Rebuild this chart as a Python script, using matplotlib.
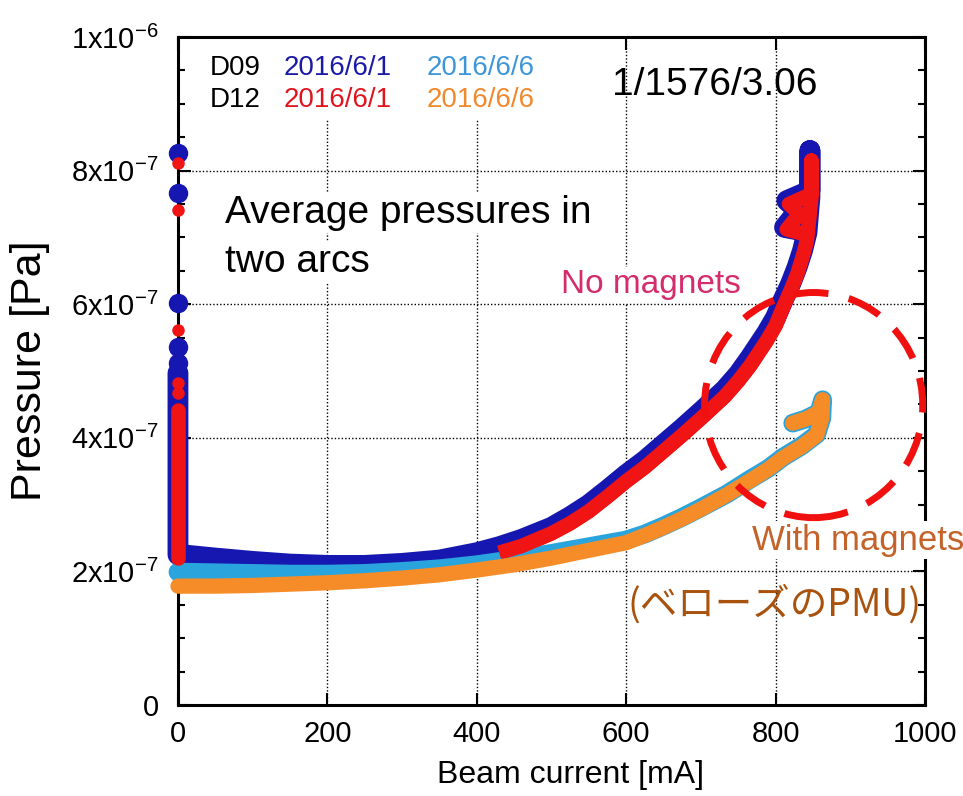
import matplotlib
matplotlib.use("Agg")
import matplotlib.pyplot as plt
from matplotlib.patches import Ellipse, Rectangle

plt.rcParams['font.family'] = ['Liberation Sans', 'Noto Sans CJK JP', 'DejaVu Sans']
plt.rcParams['mathtext.fontset'] = 'custom'
plt.rcParams['mathtext.rm'] = 'Liberation Sans'

# D09 2016/6/1 (dark blue)
d09_a_x = [0, 0, 5, 50, 100, 150, 200, 250, 300, 350, 400, 430, 460, 500, 525, 550, 575,
           600, 625, 650, 675, 703, 732, 750, 766, 788, 800, 810, 820, 829, 836, 842,
           846, 846, 846, 815, 830, 812, 835]
d09_a_y = [4.97, 2.25, 2.25, 2.20, 2.15, 2.11, 2.09, 2.09, 2.12, 2.17, 2.28, 2.37, 2.48,
           2.66, 2.82, 3.00, 3.22, 3.45, 3.66, 3.90, 4.14, 4.42, 4.72, 4.95, 5.20, 5.57,
           5.80, 6.06, 6.30, 6.56, 6.80, 7.07, 7.60, 8.30, 7.70, 7.55, 7.40, 7.15, 7.10]
d09_a_spike = [8.26, 7.66, 6.02, 5.36, 5.12]

# D12 2016/6/1 (red)
d12_a_x = [0, 0, 5, 50, 100, 150, 200, 250, 300, 350, 400, 430, 460, 500, 525, 550, 575,
           600, 625, 650, 675, 703, 732, 750, 766, 788, 800, 810, 820, 829, 836, 842,
           848, 848, 848, 818, 832, 815, 838]
d12_a_y = [4.42, 2.20, 2.13, 2.10, 2.08, 2.06, 2.04, 2.04, 2.07, 2.11, 2.20, 2.28, 2.38,
           2.57, 2.72, 2.90, 3.12, 3.35, 3.56, 3.80, 4.04, 4.32, 4.62, 4.85, 5.08, 5.45,
           5.68, 5.95, 6.20, 6.45, 6.70, 6.95, 7.60, 8.15, 7.65, 7.50, 7.35, 7.12, 7.05]
d12_a_spike = [8.11, 7.41, 5.61, 4.82, 4.67]

# D09 2016/6/6 (light blue)
d09_b_x = [0, 50, 100, 150, 200, 250, 300, 350, 400, 450, 500, 530, 565, 600, 625, 650,
           675, 703, 735, 766, 790, 810, 835, 855, 862, 863, 858, 840, 823]
d09_b_y = [1.99, 1.98, 1.97, 1.96, 1.96, 1.97, 2.00, 2.04, 2.10, 2.18, 2.27, 2.33, 2.40,
           2.47, 2.56, 2.68, 2.81, 2.97, 3.16, 3.38, 3.54, 3.71, 3.88, 4.05, 4.30, 4.57,
           4.38, 4.28, 4.22]

# D12 2016/6/6 (orange)
d12_b_x = [0, 50, 100, 150, 200, 250, 300, 350, 400, 450, 500, 530, 565, 600, 625, 650,
           675, 703, 735, 766, 790, 810, 835, 855, 862, 863, 858, 840, 823]
d12_b_y = [1.78, 1.78, 1.79, 1.81, 1.83, 1.86, 1.90, 1.95, 2.02, 2.10, 2.20, 2.27, 2.35,
           2.43, 2.54, 2.66, 2.79, 2.95, 3.15, 3.36, 3.53, 3.70, 3.87, 4.04, 4.30, 4.57,
           4.38, 4.28, 4.22]

yticks = [0, 2e-7, 4e-7, 6e-7, 8e-7, 1e-6]
ytick_labels = ['0', r'$\mathregular{2x10^{-7}}$', r'$\mathregular{4x10^{-7}}$',
                r'$\mathregular{6x10^{-7}}$', r'$\mathregular{8x10^{-7}}$',
                r'$\mathregular{1x10^{-6}}$']
xticks = [0, 200, 400, 600, 800, 1000]

blue = '#1616b0'
red = '#f01414'
lblue = '#2aa4dc'
orange = '#f68c28'

fig = plt.figure(figsize=(9.63, 7.96), dpi=100)
ax = fig.add_axes([0.1848, 0.1143, 0.7757, 0.8392])

s = 1e-7
line_kw = dict(solid_capstyle='round', solid_joinstyle='round', clip_on=False)
ax.plot(d09_a_x, [v * s for v in d09_a_y], color=blue, lw=15, zorder=3, **line_kw)
ax.plot([0] * len(d09_a_spike), [v * s for v in d09_a_spike], 'o', color=blue, ms=13,
        zorder=3, clip_on=False)
# red under the blue at low current, on top of it at high current
ax.plot(d12_a_x, [v * s for v in d12_a_y], color=red, lw=10.5, zorder=2.8, **line_kw)
ax.plot(d12_a_x[:2], [v * s for v in d12_a_y[:2]], color=red, lw=10.5, zorder=4,
        **line_kw)
ax.plot(d12_a_x[11:], [v * s for v in d12_a_y[11:]], color=red, lw=10.5, zorder=4,
        solid_capstyle='butt', solid_joinstyle='round', clip_on=False)
ax.plot([0] * len(d12_a_spike), [v * s for v in d12_a_spike], 'o', color=red, ms=8,
        zorder=4, clip_on=False)
ax.plot(d09_b_x, [v * s for v in d09_b_y], color=lblue, lw=13.5, zorder=3, **line_kw)
ax.plot(d12_b_x, [v * s for v in d12_b_y], color=orange, lw=11, zorder=4, **line_kw)

ax.set_xlim(0, 1000)
ax.set_ylim(0, 1e-6)
ax.set_xticks(xticks)
ax.set_xticklabels([str(v) for v in xticks])
ax.set_yticks(yticks)
ax.set_yticklabels(ytick_labels)
ax.set_yticks([i * 5e-8 for i in range(21)], minor=True)
ax.tick_params(axis='both', which='major', direction='in', length=9, width=1.5,
               labelsize=21, top=True, right=True)
ax.tick_params(axis='x', pad=11)
ax.tick_params(axis='y', pad=14)
ax.tick_params(axis='y', which='minor', direction='in', length=5, width=1.5, right=True)
for sp in ax.spines.values():
    sp.set_linewidth(2.2)
ax.grid(True, which='major', color='k', linestyle=(0, (1, 1.5)), lw=1)

ax.set_ylabel('Pressure [Pa]', fontsize=31, va='center')
ax.yaxis.set_label_coords(-0.198, 0.5)
ax.set_xlabel('Beam current [mA]', fontsize=23, va='center')
ax.xaxis.set_label_coords(0.526, -0.105)

# white area behind the legend texts
ax.add_patch(Rectangle((0.023, 0.876), 0.49, 0.124, transform=ax.transAxes,
                       facecolor='white', edgecolor='none', zorder=2))
ax.text(43, 9.54e-7, 'D09', fontsize=20, va='center', zorder=5)
ax.text(141, 9.54e-7, '2016/6/1', fontsize=20, color='#1a1aa6', va='center', zorder=5)
ax.text(333, 9.54e-7, '2016/6/6', fontsize=20, color='#3c96d8', va='center', zorder=5)
ax.text(43, 9.06e-7, 'D12', fontsize=20, va='center', zorder=5)
ax.text(141, 9.06e-7, '2016/6/1', fontsize=20, color='#e0141e', va='center', zorder=5)
ax.text(333, 9.06e-7, '2016/6/6', fontsize=20, color='#f0882c', va='center', zorder=5)

ax.text(581, 9.28e-7, '1/1576/3.06', fontsize=28, va='center', zorder=5)

wb = dict(facecolor='white', edgecolor='none', pad=2)
ax.text(63, 7.37e-7, 'Average pressures in', fontsize=28, va='center', bbox=wb, zorder=5)
ax.text(63, 6.63e-7, 'two arcs', fontsize=28, va='center', bbox=wb, zorder=5)
ax.text(633, 6.29e-7, 'No magnets', fontsize=24, color='#d42c6c', ha='center',
        va='center', bbox=wb, zorder=5)
ax.text(768, 2.47e-7, 'With magnets', fontsize=25, color='#c4622a', va='center',
        bbox=wb, zorder=6, clip_on=False)
ax.text(602, 1.5e-7, '(ベローズのPMU)', fontsize=27, color='#a8520e', va='center',
        zorder=5, family=['Noto Sans CJK JP', 'Liberation Sans'])

ax.add_patch(Ellipse((851, 4.49e-7), 292, 3.37e-7, fill=False, edgecolor='#f01010',
                     lw=5, linestyle=(0, (5, 3)), zorder=6, clip_on=False))

fig.savefig('out.png', dpi=100)
